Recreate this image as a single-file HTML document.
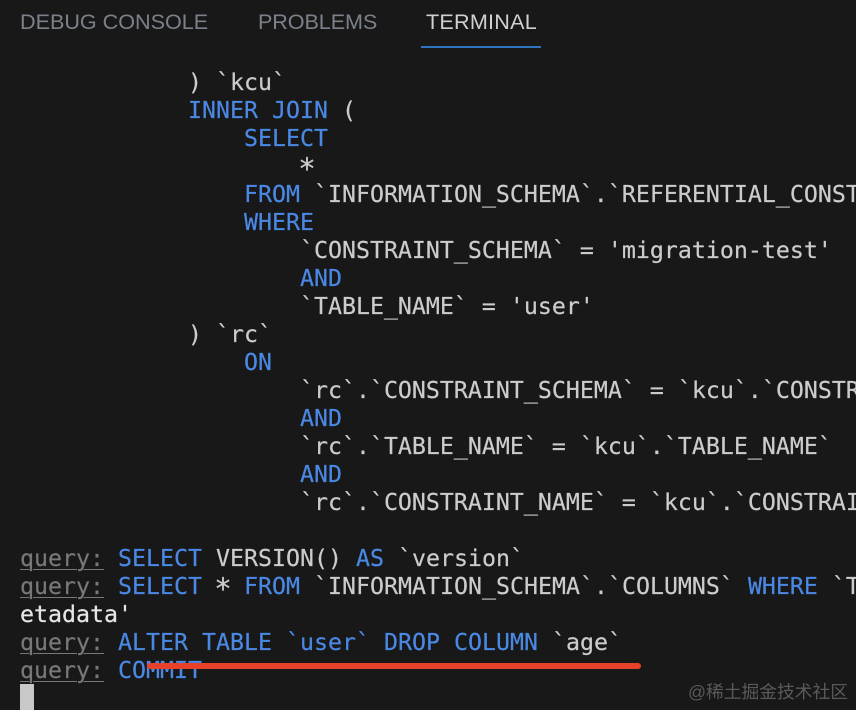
<!DOCTYPE html>
<html lang="en">
<head>
<meta charset="utf-8">
<style>
html,body{margin:0;padding:0;background:#181818;}
#page{position:relative;width:856px;height:710px;overflow:hidden;background:#181818;}
.tab{position:absolute;top:8px;font:21.6px/28px "Liberation Sans",sans-serif;color:#7b818a;white-space:nowrap;}
pre{position:absolute;left:20px;top:69px;margin:0;font-family:"DejaVu Sans Mono",monospace;font-size:23.25px;line-height:28px;color:#cccccc;white-space:pre;-webkit-text-stroke:.2px currentColor;}
b{font-weight:normal;color:#4a88e4;}
i{font-style:normal;color:#787878;text-decoration:underline;text-underline-offset:3px;text-decoration-thickness:1px;}
em{font-style:normal;color:#e6e6e6;}
u{text-decoration:none;display:inline-block;transform:translateY(3px) scale(1.25);}
</style>
</head>
<body>
<div id="page">
<div class="tab" style="left:20px;letter-spacing:-.02px">DEBUG CONSOLE</div>
<div class="tab" style="left:258px;letter-spacing:-.1px">PROBLEMS</div>
<div class="tab" style="left:426px;color:#d0d0d0;letter-spacing:.22px">TERMINAL</div>
<div style="position:absolute;left:421px;top:46px;width:120px;height:2px;background:#2f74c0"></div>
<pre>            ) `kcu`
            <b>INNER JOIN</b> (
                <b>SELECT</b>
                    <u>*</u>
                <b>FROM</b> `INFORMATION_SCHEMA`.`REFERENTIAL_CONSTRAINTS`
                <b>WHERE</b>
                    `CONSTRAINT_SCHEMA` = 'migration-test'
                    <b>AND</b>
                    `TABLE_NAME` = 'user'
            ) `rc`
                <b>ON</b>
                    `rc`.`CONSTRAINT_SCHEMA` = `kcu`.`CONSTRAINT_SCHEMA`
                    <b>AND</b>
                    `rc`.`TABLE_NAME` = `kcu`.`TABLE_NAME`
                    <b>AND</b>
                    `rc`.`CONSTRAINT_NAME` = `kcu`.`CONSTRAINT_NAME`

<i>query:</i> <b>SELECT</b> VERSION() <b>AS</b> `version`
<i>query:</i> <b>SELECT</b> <u>*</u> <b>FROM</b> `INFORMATION_SCHEMA`.`COLUMNS` <b>WHERE</b> `TABLE_NAME`
<em>etadata'</em>
<i>query:</i> <b>ALTER TABLE</b> <b>`user`</b> <b>DROP COLUMN</b> `age`
<i>query:</i> <b>COMMIT</b></pre>
<div style="position:absolute;left:20px;top:684px;width:14px;height:26px;background:#c8c8c8"></div>
<div style="position:absolute;left:147px;top:663px;width:494px;height:6px;border-radius:3px;background:#e8412a"></div>
<div style="position:absolute;left:688px;top:678px;font:17.75px/28px 'Liberation Sans','Noto Sans CJK SC',sans-serif;color:#5a5a5a;white-space:nowrap">@稀土掘金技术社区</div>
</div>
</body>
</html>
